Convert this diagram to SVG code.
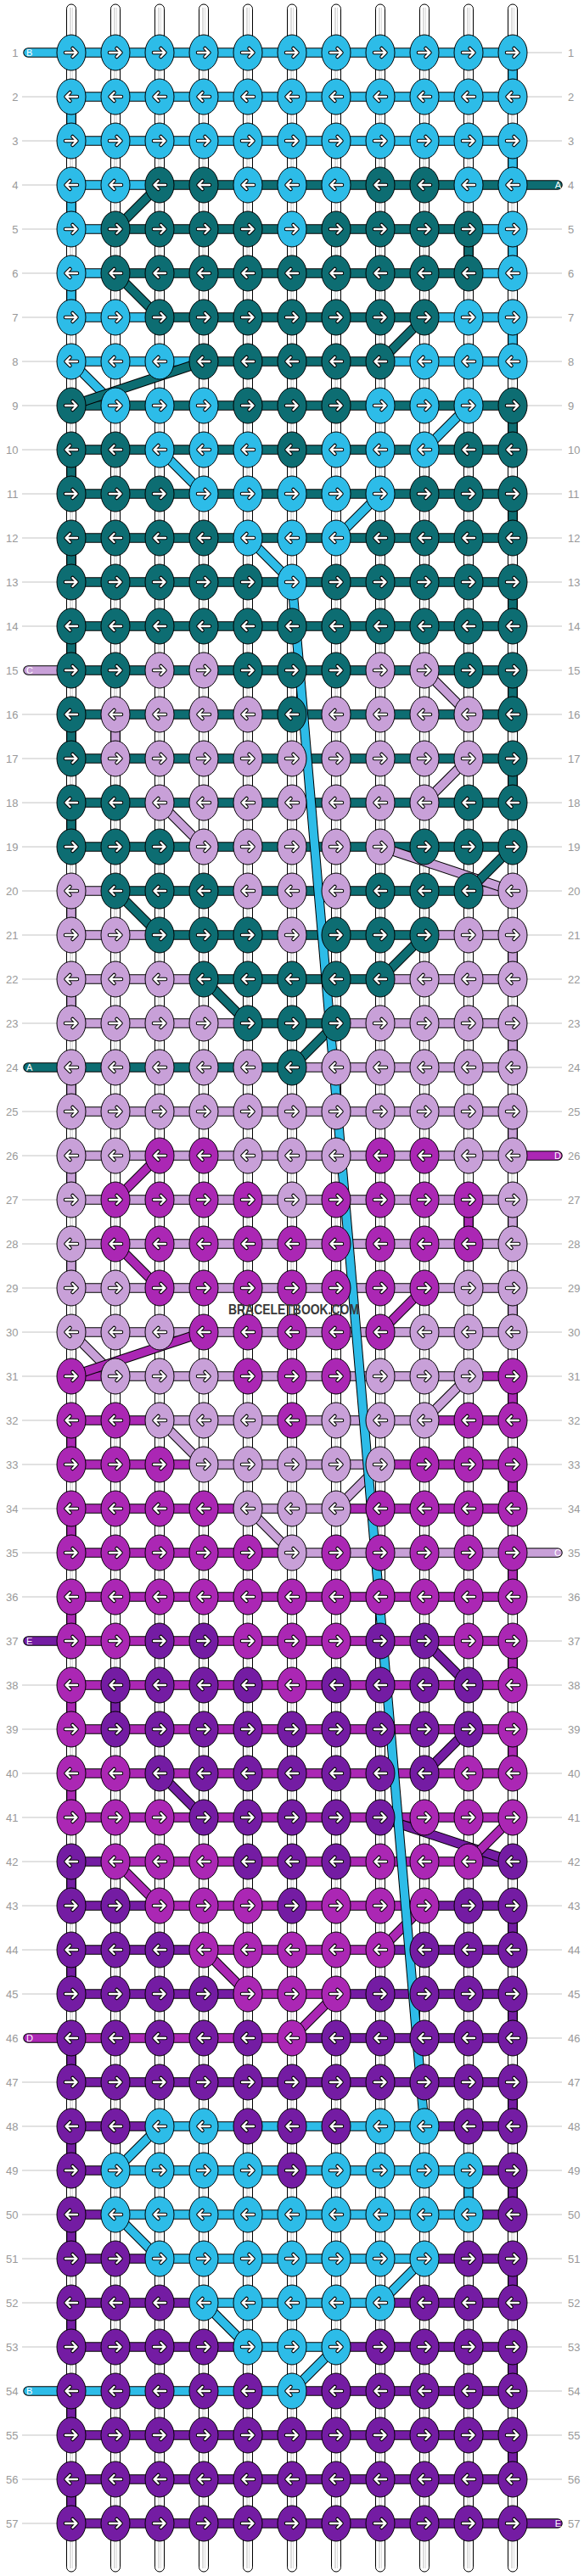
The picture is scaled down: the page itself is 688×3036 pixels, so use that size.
<svg xmlns="http://www.w3.org/2000/svg" width="688" height="3036" viewBox="0 0 688 3036">
<defs>
<style>
.b{fill:#2DBCE8}.t{fill:#0D6D72}.l{fill:#C8A0D8}.m{fill:#AB27B4}.p{fill:#741CA3}
.o{stroke:#000;stroke-width:11.5}
.sb,.st,.sl,.sm,.sp{stroke-width:9.5}
.sb{stroke:#2DBCE8}.st{stroke:#0D6D72}.sl{stroke:#C8A0D8}.sm{stroke:#AB27B4}.sp{stroke:#741CA3}
.num{font-family:"Liberation Sans",Arial,sans-serif;font-size:13px;fill:#999}
.lbl{font-family:"Liberation Sans",Arial,sans-serif;font-size:11px;fill:#fff}
</style>
<g id="R"><ellipse rx="17" ry="21" stroke="#000" stroke-width="1"/><path d="M-7 0H6M1.5-5L6.5 0L1.5 5" fill="none" stroke="#000" stroke-width="4.5" stroke-linecap="round" stroke-linejoin="round"/><path d="M-7 0H6M1.5-5L6.5 0L1.5 5" fill="none" stroke="#fff" stroke-width="2.4" stroke-linecap="round" stroke-linejoin="round"/></g>
<g id="L"><ellipse rx="17" ry="21" stroke="#000" stroke-width="1"/><path d="M7 0H-6M-1.5-5L-6.5 0L-1.5 5" fill="none" stroke="#000" stroke-width="4.5" stroke-linecap="round" stroke-linejoin="round"/><path d="M7 0H-6M-1.5-5L-6.5 0L-1.5 5" fill="none" stroke="#fff" stroke-width="2.4" stroke-linecap="round" stroke-linejoin="round"/></g>
<g id="ws"><rect x="-5.5" y="5" width="11" height="3026" rx="5.5" fill="#fff" stroke="#000"/><path d="M-1 9V3027" stroke="#bbb"/><path d="M1.5 9V3027" stroke="#ddd"/></g>
</defs>
<rect width="688" height="3036" fill="#fff"/>
<g id="labels">
<path fill="none" stroke="#c4c4c4" d="M26 114h41M26 166h41M26 218h41M26 270h41M26 322h41M26 374h41M26 426h41M26 478h41M26 530h41M26 582h41M26 634h41M26 686h41M26 738h41M26 842h41M26 894h41M26 946h41M26 998h41M26 1050h41M26 1102h41M26 1154h41M26 1206h41M26 1310h41M26 1362h41M26 1414h41M26 1466h41M26 1518h41M26 1570h41M26 1622h41M26 1674h41M26 1726h41M26 1778h41M26 1830h41M26 1882h41M26 1986h41M26 2038h41M26 2090h41M26 2142h41M26 2194h41M26 2246h41M26 2298h41M26 2350h41M26 2454h41M26 2506h41M26 2558h41M26 2610h41M26 2662h41M26 2714h41M26 2766h41M26 2870h41M26 2922h41M26 2974h41M621 62h41M621 114h41M621 166h41M621 270h41M621 322h41M621 374h41M621 426h41M621 478h41M621 530h41M621 582h41M621 634h41M621 686h41M621 738h41M621 790h41M621 842h41M621 894h41M621 946h41M621 998h41M621 1050h41M621 1102h41M621 1154h41M621 1206h41M621 1258h41M621 1310h41M621 1414h41M621 1466h41M621 1518h41M621 1570h41M621 1622h41M621 1674h41M621 1726h41M621 1778h41M621 1882h41M621 1934h41M621 1986h41M621 2038h41M621 2090h41M621 2142h41M621 2194h41M621 2246h41M621 2298h41M621 2350h41M621 2402h41M621 2454h41M621 2506h41M621 2558h41M621 2610h41M621 2662h41M621 2714h41M621 2766h41M621 2818h41M621 2870h41M621 2922h41"/>
<text class="num" text-anchor="end"><tspan x="21.5" y="66.5">1</tspan><tspan x="21.5" y="118.5">2</tspan><tspan x="21.5" y="170.5">3</tspan><tspan x="21.5" y="222.5">4</tspan><tspan x="21.5" y="274.5">5</tspan><tspan x="21.5" y="326.5">6</tspan><tspan x="21.5" y="378.5">7</tspan><tspan x="21.5" y="430.5">8</tspan><tspan x="21.5" y="482.5">9</tspan><tspan x="21.5" y="534.5">10</tspan><tspan x="21.5" y="586.5">11</tspan><tspan x="21.5" y="638.5">12</tspan><tspan x="21.5" y="690.5">13</tspan><tspan x="21.5" y="742.5">14</tspan><tspan x="21.5" y="794.5">15</tspan><tspan x="21.5" y="846.5">16</tspan><tspan x="21.5" y="898.5">17</tspan><tspan x="21.5" y="950.5">18</tspan><tspan x="21.5" y="1002.5">19</tspan><tspan x="21.5" y="1054.5">20</tspan><tspan x="21.5" y="1106.5">21</tspan><tspan x="21.5" y="1158.5">22</tspan><tspan x="21.5" y="1210.5">23</tspan><tspan x="21.5" y="1262.5">24</tspan><tspan x="21.5" y="1314.5">25</tspan><tspan x="21.5" y="1366.5">26</tspan><tspan x="21.5" y="1418.5">27</tspan><tspan x="21.5" y="1470.5">28</tspan><tspan x="21.5" y="1522.5">29</tspan><tspan x="21.5" y="1574.5">30</tspan><tspan x="21.5" y="1626.5">31</tspan><tspan x="21.5" y="1678.5">32</tspan><tspan x="21.5" y="1730.5">33</tspan><tspan x="21.5" y="1782.5">34</tspan><tspan x="21.5" y="1834.5">35</tspan><tspan x="21.5" y="1886.5">36</tspan><tspan x="21.5" y="1938.5">37</tspan><tspan x="21.5" y="1990.5">38</tspan><tspan x="21.5" y="2042.5">39</tspan><tspan x="21.5" y="2094.5">40</tspan><tspan x="21.5" y="2146.5">41</tspan><tspan x="21.5" y="2198.5">42</tspan><tspan x="21.5" y="2250.5">43</tspan><tspan x="21.5" y="2302.5">44</tspan><tspan x="21.5" y="2354.5">45</tspan><tspan x="21.5" y="2406.5">46</tspan><tspan x="21.5" y="2458.5">47</tspan><tspan x="21.5" y="2510.5">48</tspan><tspan x="21.5" y="2562.5">49</tspan><tspan x="21.5" y="2614.5">50</tspan><tspan x="21.5" y="2666.5">51</tspan><tspan x="21.5" y="2718.5">52</tspan><tspan x="21.5" y="2770.5">53</tspan><tspan x="21.5" y="2822.5">54</tspan><tspan x="21.5" y="2874.5">55</tspan><tspan x="21.5" y="2926.5">56</tspan><tspan x="21.5" y="2978.5">57</tspan></text>
<text class="num"><tspan x="669" y="66.5">1</tspan><tspan x="669" y="118.5">2</tspan><tspan x="669" y="170.5">3</tspan><tspan x="669" y="222.5">4</tspan><tspan x="669" y="274.5">5</tspan><tspan x="669" y="326.5">6</tspan><tspan x="669" y="378.5">7</tspan><tspan x="669" y="430.5">8</tspan><tspan x="669" y="482.5">9</tspan><tspan x="669" y="534.5">10</tspan><tspan x="669" y="586.5">11</tspan><tspan x="669" y="638.5">12</tspan><tspan x="669" y="690.5">13</tspan><tspan x="669" y="742.5">14</tspan><tspan x="669" y="794.5">15</tspan><tspan x="669" y="846.5">16</tspan><tspan x="669" y="898.5">17</tspan><tspan x="669" y="950.5">18</tspan><tspan x="669" y="1002.5">19</tspan><tspan x="669" y="1054.5">20</tspan><tspan x="669" y="1106.5">21</tspan><tspan x="669" y="1158.5">22</tspan><tspan x="669" y="1210.5">23</tspan><tspan x="669" y="1262.5">24</tspan><tspan x="669" y="1314.5">25</tspan><tspan x="669" y="1366.5">26</tspan><tspan x="669" y="1418.5">27</tspan><tspan x="669" y="1470.5">28</tspan><tspan x="669" y="1522.5">29</tspan><tspan x="669" y="1574.5">30</tspan><tspan x="669" y="1626.5">31</tspan><tspan x="669" y="1678.5">32</tspan><tspan x="669" y="1730.5">33</tspan><tspan x="669" y="1782.5">34</tspan><tspan x="669" y="1834.5">35</tspan><tspan x="669" y="1886.5">36</tspan><tspan x="669" y="1938.5">37</tspan><tspan x="669" y="1990.5">38</tspan><tspan x="669" y="2042.5">39</tspan><tspan x="669" y="2094.5">40</tspan><tspan x="669" y="2146.5">41</tspan><tspan x="669" y="2198.5">42</tspan><tspan x="669" y="2250.5">43</tspan><tspan x="669" y="2302.5">44</tspan><tspan x="669" y="2354.5">45</tspan><tspan x="669" y="2406.5">46</tspan><tspan x="669" y="2458.5">47</tspan><tspan x="669" y="2510.5">48</tspan><tspan x="669" y="2562.5">49</tspan><tspan x="669" y="2614.5">50</tspan><tspan x="669" y="2666.5">51</tspan><tspan x="669" y="2718.5">52</tspan><tspan x="669" y="2770.5">53</tspan><tspan x="669" y="2822.5">54</tspan><tspan x="669" y="2874.5">55</tspan><tspan x="669" y="2926.5">56</tspan><tspan x="669" y="2978.5">57</tspan></text>
</g>
<g id="connectors" fill="none">
<g id="strings"><use href="#ws" x="84"/><use href="#ws" x="136"/><use href="#ws" x="188"/><use href="#ws" x="240"/><use href="#ws" x="292"/><use href="#ws" x="344"/><use href="#ws" x="396"/><use href="#ws" x="448"/><use href="#ws" x="500"/><use href="#ws" x="552"/><use href="#ws" x="604"/></g>
<g id="rows" stroke-linecap="round">
<path class="o" d="M33 62H604M84 114H604M84 166H604M84 218H657M84 270H604M84 322H604M84 374H604M84 426H604M84 478H604M84 530H604M84 582H604M84 634H604M84 686H604M84 738H604M33 790H604M84 842H604M84 894H604M84 946H604M84 998H604M84 1050H604M84 1102H604M84 1154H604M84 1206H604M33 1258H604M84 1310H604M84 1362H657M84 1414H604M84 1466H604M84 1518H604M84 1570H604M84 1622H604M84 1674H604M84 1726H604M84 1778H604M84 1830H657M84 1882H604M33 1934H604M84 1986H604M84 2038H604M84 2090H604M84 2142H604M84 2194H604M84 2246H604M84 2298H604M84 2350H604M33 2402H604M84 2454H604M84 2506H604M84 2558H604M84 2610H604M84 2662H604M84 2714H604M84 2766H604M33 2818H604M84 2870H604M84 2922H604M84 2974H657"/>
<path class="sb" d="M33 62H604M84 114H604M84 166H604M84 218H188M84 270H136M552 270H604M84 322H136M552 322H604M84 374H188M500 374H604M84 426H240M448 426H604M188 2506H500M136 2558H552M136 2610H552M188 2662H500M240 2714H448M292 2766H396M33 2818H344"/>
<path class="st" d="M188 218H657M136 270H552M136 322H552M188 374H500M240 426H448M84 478H604M84 530H604M84 582H604M84 634H604M84 686H604M84 738H604M84 790H604M84 842H604M84 894H604M84 946H604M84 998H604M136 1050H552M188 1102H500M240 1154H448M292 1206H396M33 1258H344"/>
<path class="sl" d="M33 790H84M84 1050H136M552 1050H604M84 1102H188M500 1102H604M84 1154H240M448 1154H604M84 1206H292M396 1206H604M344 1258H604M84 1310H604M84 1362H604M84 1414H604M84 1466H604M84 1518H604M84 1570H604M136 1622H552M188 1674H500M240 1726H448M292 1778H396M344 1830H657"/>
<path class="sm" d="M604 1362H657M84 1622H136M552 1622H604M84 1674H188M500 1674H604M84 1726H240M448 1726H604M84 1778H292M396 1778H604M84 1830H344M84 1882H604M84 1934H604M84 1986H604M84 2038H604M84 2090H604M84 2142H604M136 2194H552M188 2246H500M240 2298H448M292 2350H396M33 2402H344"/>
<path class="sp" d="M33 1934H84M84 2194H136M552 2194H604M84 2246H188M500 2246H604M84 2298H240M448 2298H604M84 2350H292M396 2350H604M344 2402H604M84 2454H604M84 2506H188M500 2506H604M84 2558H136M552 2558H604M84 2610H136M552 2610H604M84 2662H188M500 2662H604M84 2714H240M448 2714H604M84 2766H292M396 2766H604M344 2818H604M84 2870H604M84 2922H604M84 2974H657"/>
</g>
<g id="turns" stroke-linecap="round">
<path class="o" d="M604 62V114M84 114V166M604 166V218M84 218V270M604 270V322M552 270V322M84 322V374M604 374V426M604 478V530M84 530V582M604 582V634M84 634V686M604 686V738M84 738V790M604 790V842M84 842V894M136 842V894M604 894V946M84 946V998M84 1050V1102M604 1102V1154M84 1154V1206M604 1206V1258M84 1258V1310M604 1310V1362M84 1362V1414M604 1414V1466M552 1414V1466M84 1466V1518M604 1518V1570M604 1622V1674M84 1674V1726M604 1726V1778M84 1778V1830M604 1830V1882M84 1882V1934M604 1934V1986M84 1986V2038M136 1986V2038M604 2038V2090M84 2090V2142M84 2194V2246M604 2246V2298M84 2298V2350M604 2350V2402M84 2402V2454M604 2454V2506M84 2506V2558M604 2558V2610M552 2558V2610M84 2610V2662M604 2662V2714M84 2714V2766M604 2766V2818M84 2818V2870M604 2870V2922M84 2922V2974"/>
<path class="sb" d="M604 62V114M84 114V166M604 166V218M84 218V270M604 270V322M84 322V374M604 374V426M552 2558V2610"/>
<path class="st" d="M552 270V322M604 478V530M84 530V582M604 582V634M84 634V686M604 686V738M84 738V790M604 790V842M84 842V894M604 894V946M84 946V998"/>
<path class="sl" d="M136 842V894M84 1050V1102M604 1102V1154M84 1154V1206M604 1206V1258M84 1258V1310M604 1310V1362M84 1362V1414M604 1414V1466M84 1466V1518M604 1518V1570"/>
<path class="sm" d="M552 1414V1466M604 1622V1674M84 1674V1726M604 1726V1778M84 1778V1830M604 1830V1882M84 1882V1934M604 1934V1986M84 1986V2038M604 2038V2090M84 2090V2142"/>
<path class="sp" d="M136 1986V2038M84 2194V2246M604 2246V2298M84 2298V2350M604 2350V2402M84 2402V2454M604 2454V2506M84 2506V2558M604 2558V2610M84 2610V2662M604 2662V2714M84 2714V2766M604 2766V2818M84 2818V2870M604 2870V2922M84 2922V2974"/>
</g>
<g id="diagonals">
<path class="o" d="M188 218L136 270"/><path class="st" d="M188 218L136 270"/>
<path class="o" d="M136 322L188 374"/><path class="st" d="M136 322L188 374"/>
<path class="o" d="M500 374L448 426"/><path class="st" d="M500 374L448 426"/>
<path class="o" d="M84 426L136 478"/><path class="sb" d="M84 426L136 478"/>
<path class="o" d="M240 426L84 478"/><path class="st" d="M240 426L84 478"/>
<path class="o" d="M552 478L500 530"/><path class="sb" d="M552 478L500 530"/>
<path class="o" d="M188 530L240 582"/><path class="sb" d="M188 530L240 582"/>
<path class="o" d="M448 582L396 634"/><path class="sb" d="M448 582L396 634"/>
<path class="o" d="M292 634L344 686"/><path class="sb" d="M292 634L344 686"/>
<path class="o" d="M500 790L552 842"/><path class="sl" d="M500 790L552 842"/>
<path class="o" d="M552 894L500 946"/><path class="sl" d="M552 894L500 946"/>
<path class="o" d="M188 946L240 998"/><path class="sl" d="M188 946L240 998"/>
<path class="o" d="M448 998L604 1050"/><path class="sl" d="M448 998L604 1050"/>
<path class="o" d="M604 998L552 1050"/><path class="st" d="M604 998L552 1050"/>
<path class="o" d="M136 1050L188 1102"/><path class="st" d="M136 1050L188 1102"/>
<path class="o" d="M500 1102L448 1154"/><path class="st" d="M500 1102L448 1154"/>
<path class="o" d="M240 1154L292 1206"/><path class="st" d="M240 1154L292 1206"/>
<path class="o" d="M396 1206L344 1258"/><path class="st" d="M396 1206L344 1258"/>
<path class="o" d="M188 1362L136 1414"/><path class="sm" d="M188 1362L136 1414"/>
<path class="o" d="M136 1466L188 1518"/><path class="sm" d="M136 1466L188 1518"/>
<path class="o" d="M500 1518L448 1570"/><path class="sm" d="M500 1518L448 1570"/>
<path class="o" d="M84 1570L136 1622"/><path class="sl" d="M84 1570L136 1622"/>
<path class="o" d="M240 1570L84 1622"/><path class="sm" d="M240 1570L84 1622"/>
<path class="o" d="M552 1622L500 1674"/><path class="sl" d="M552 1622L500 1674"/>
<path class="o" d="M188 1674L240 1726"/><path class="sl" d="M188 1674L240 1726"/>
<path class="o" d="M448 1726L396 1778"/><path class="sl" d="M448 1726L396 1778"/>
<path class="o" d="M292 1778L344 1830"/><path class="sl" d="M292 1778L344 1830"/>
<path class="o" d="M500 1934L552 1986"/><path class="sp" d="M500 1934L552 1986"/>
<path class="o" d="M552 2038L500 2090"/><path class="sp" d="M552 2038L500 2090"/>
<path class="o" d="M188 2090L240 2142"/><path class="sp" d="M188 2090L240 2142"/>
<path class="o" d="M448 2142L604 2194"/><path class="sp" d="M448 2142L604 2194"/>
<path class="o" d="M604 2142L552 2194"/><path class="sm" d="M604 2142L552 2194"/>
<path class="o" d="M136 2194L188 2246"/><path class="sm" d="M136 2194L188 2246"/>
<path class="o" d="M500 2246L448 2298"/><path class="sm" d="M500 2246L448 2298"/>
<path class="o" d="M240 2298L292 2350"/><path class="sm" d="M240 2298L292 2350"/>
<path class="o" d="M396 2350L344 2402"/><path class="sm" d="M396 2350L344 2402"/>
<path class="o" d="M188 2506L136 2558"/><path class="sb" d="M188 2506L136 2558"/>
<path class="o" d="M136 2610L188 2662"/><path class="sb" d="M136 2610L188 2662"/>
<path class="o" d="M500 2662L448 2714"/><path class="sb" d="M500 2662L448 2714"/>
<path class="o" d="M240 2714L292 2766"/><path class="sb" d="M240 2714L292 2766"/>
<path class="o" d="M396 2766L344 2818"/><path class="sb" d="M396 2766L344 2818"/>
<path class="o" d="M344 686L500 2506"/><path class="sb" d="M344 686L500 2506"/>
</g>
</g>
<g id="knots">
<g id="row1" transform="translate(0,62)"><g id="k1-1" class="b"><use href="#R" x="84"/></g><g id="k1-2" class="b"><use href="#R" x="136"/></g><g id="k1-3" class="b"><use href="#R" x="188"/></g><g id="k1-4" class="b"><use href="#R" x="240"/></g><g id="k1-5" class="b"><use href="#R" x="292"/></g><g id="k1-6" class="b"><use href="#R" x="344"/></g><g id="k1-7" class="b"><use href="#R" x="396"/></g><g id="k1-8" class="b"><use href="#R" x="448"/></g><g id="k1-9" class="b"><use href="#R" x="500"/></g><g id="k1-10" class="b"><use href="#R" x="552"/></g><g id="k1-11" class="b"><use href="#R" x="604"/></g></g>
<g id="row2" transform="translate(0,114)"><g id="k2-1" class="b"><use href="#L" x="84"/></g><g id="k2-2" class="b"><use href="#L" x="136"/></g><g id="k2-3" class="b"><use href="#L" x="188"/></g><g id="k2-4" class="b"><use href="#L" x="240"/></g><g id="k2-5" class="b"><use href="#L" x="292"/></g><g id="k2-6" class="b"><use href="#L" x="344"/></g><g id="k2-7" class="b"><use href="#L" x="396"/></g><g id="k2-8" class="b"><use href="#L" x="448"/></g><g id="k2-9" class="b"><use href="#L" x="500"/></g><g id="k2-10" class="b"><use href="#L" x="552"/></g><g id="k2-11" class="b"><use href="#L" x="604"/></g></g>
<g id="row3" transform="translate(0,166)"><g id="k3-1" class="b"><use href="#R" x="84"/></g><g id="k3-2" class="b"><use href="#R" x="136"/></g><g id="k3-3" class="b"><use href="#R" x="188"/></g><g id="k3-4" class="b"><use href="#R" x="240"/></g><g id="k3-5" class="b"><use href="#R" x="292"/></g><g id="k3-6" class="b"><use href="#R" x="344"/></g><g id="k3-7" class="b"><use href="#R" x="396"/></g><g id="k3-8" class="b"><use href="#R" x="448"/></g><g id="k3-9" class="b"><use href="#R" x="500"/></g><g id="k3-10" class="b"><use href="#R" x="552"/></g><g id="k3-11" class="b"><use href="#R" x="604"/></g></g>
<g id="row4" transform="translate(0,218)"><g id="k4-1" class="b"><use href="#L" x="84"/></g><g id="k4-2" class="b"><use href="#L" x="136"/></g><g id="k4-3" class="t"><use href="#L" x="188"/></g><g id="k4-4" class="t"><use href="#L" x="240"/></g><g id="k4-5" class="b"><use href="#L" x="292"/></g><g id="k4-6" class="b"><use href="#L" x="344"/></g><g id="k4-7" class="b"><use href="#L" x="396"/></g><g id="k4-8" class="t"><use href="#L" x="448"/></g><g id="k4-9" class="t"><use href="#L" x="500"/></g><g id="k4-10" class="b"><use href="#L" x="552"/></g><g id="k4-11" class="b"><use href="#L" x="604"/></g></g>
<g id="row5" transform="translate(0,270)"><g id="k5-1" class="b"><use href="#R" x="84"/></g><g id="k5-2" class="t"><use href="#R" x="136"/></g><g id="k5-3" class="t"><use href="#R" x="188"/></g><g id="k5-4" class="t"><use href="#R" x="240"/></g><g id="k5-5" class="t"><use href="#R" x="292"/></g><g id="k5-6" class="b"><use href="#R" x="344"/></g><g id="k5-7" class="t"><use href="#R" x="396"/></g><g id="k5-8" class="t"><use href="#R" x="448"/></g><g id="k5-9" class="t"><use href="#R" x="500"/></g><g id="k5-10" class="t"><use href="#R" x="552"/></g><g id="k5-11" class="b"><use href="#R" x="604"/></g></g>
<g id="row6" transform="translate(0,322)"><g id="k6-1" class="b"><use href="#L" x="84"/></g><g id="k6-2" class="t"><use href="#L" x="136"/></g><g id="k6-3" class="t"><use href="#L" x="188"/></g><g id="k6-4" class="t"><use href="#L" x="240"/></g><g id="k6-5" class="t"><use href="#L" x="292"/></g><g id="k6-6" class="t"><use href="#L" x="344"/></g><g id="k6-7" class="t"><use href="#L" x="396"/></g><g id="k6-8" class="t"><use href="#L" x="448"/></g><g id="k6-9" class="t"><use href="#L" x="500"/></g><g id="k6-10" class="t"><use href="#L" x="552"/></g><g id="k6-11" class="b"><use href="#L" x="604"/></g></g>
<g id="row7" transform="translate(0,374)"><g id="k7-1" class="b"><use href="#R" x="84"/></g><g id="k7-2" class="b"><use href="#R" x="136"/></g><g id="k7-3" class="t"><use href="#R" x="188"/></g><g id="k7-4" class="t"><use href="#R" x="240"/></g><g id="k7-5" class="t"><use href="#R" x="292"/></g><g id="k7-6" class="t"><use href="#R" x="344"/></g><g id="k7-7" class="t"><use href="#R" x="396"/></g><g id="k7-8" class="t"><use href="#R" x="448"/></g><g id="k7-9" class="t"><use href="#R" x="500"/></g><g id="k7-10" class="b"><use href="#R" x="552"/></g><g id="k7-11" class="b"><use href="#R" x="604"/></g></g>
<g id="row8" transform="translate(0,426)"><g id="k8-1" class="b"><use href="#L" x="84"/></g><g id="k8-2" class="b"><use href="#L" x="136"/></g><g id="k8-3" class="b"><use href="#L" x="188"/></g><g id="k8-4" class="t"><use href="#L" x="240"/></g><g id="k8-5" class="t"><use href="#L" x="292"/></g><g id="k8-6" class="t"><use href="#L" x="344"/></g><g id="k8-7" class="t"><use href="#L" x="396"/></g><g id="k8-8" class="t"><use href="#L" x="448"/></g><g id="k8-9" class="b"><use href="#L" x="500"/></g><g id="k8-10" class="b"><use href="#L" x="552"/></g><g id="k8-11" class="b"><use href="#L" x="604"/></g></g>
<g id="row9" transform="translate(0,478)"><g id="k9-1" class="t"><use href="#R" x="84"/></g><g id="k9-2" class="b"><use href="#R" x="136"/></g><g id="k9-3" class="b"><use href="#R" x="188"/></g><g id="k9-4" class="b"><use href="#R" x="240"/></g><g id="k9-5" class="t"><use href="#R" x="292"/></g><g id="k9-6" class="t"><use href="#R" x="344"/></g><g id="k9-7" class="t"><use href="#R" x="396"/></g><g id="k9-8" class="b"><use href="#R" x="448"/></g><g id="k9-9" class="b"><use href="#R" x="500"/></g><g id="k9-10" class="b"><use href="#R" x="552"/></g><g id="k9-11" class="t"><use href="#R" x="604"/></g></g>
<g id="row10" transform="translate(0,530)"><g id="k10-1" class="t"><use href="#L" x="84"/></g><g id="k10-2" class="t"><use href="#L" x="136"/></g><g id="k10-3" class="b"><use href="#L" x="188"/></g><g id="k10-4" class="b"><use href="#L" x="240"/></g><g id="k10-5" class="b"><use href="#L" x="292"/></g><g id="k10-6" class="t"><use href="#L" x="344"/></g><g id="k10-7" class="b"><use href="#L" x="396"/></g><g id="k10-8" class="b"><use href="#L" x="448"/></g><g id="k10-9" class="b"><use href="#L" x="500"/></g><g id="k10-10" class="t"><use href="#L" x="552"/></g><g id="k10-11" class="t"><use href="#L" x="604"/></g></g>
<g id="row11" transform="translate(0,582)"><g id="k11-1" class="t"><use href="#R" x="84"/></g><g id="k11-2" class="t"><use href="#R" x="136"/></g><g id="k11-3" class="t"><use href="#R" x="188"/></g><g id="k11-4" class="b"><use href="#R" x="240"/></g><g id="k11-5" class="b"><use href="#R" x="292"/></g><g id="k11-6" class="b"><use href="#R" x="344"/></g><g id="k11-7" class="b"><use href="#R" x="396"/></g><g id="k11-8" class="b"><use href="#R" x="448"/></g><g id="k11-9" class="t"><use href="#R" x="500"/></g><g id="k11-10" class="t"><use href="#R" x="552"/></g><g id="k11-11" class="t"><use href="#R" x="604"/></g></g>
<g id="row12" transform="translate(0,634)"><g id="k12-1" class="t"><use href="#L" x="84"/></g><g id="k12-2" class="t"><use href="#L" x="136"/></g><g id="k12-3" class="t"><use href="#L" x="188"/></g><g id="k12-4" class="t"><use href="#L" x="240"/></g><g id="k12-5" class="b"><use href="#L" x="292"/></g><g id="k12-6" class="b"><use href="#L" x="344"/></g><g id="k12-7" class="b"><use href="#L" x="396"/></g><g id="k12-8" class="t"><use href="#L" x="448"/></g><g id="k12-9" class="t"><use href="#L" x="500"/></g><g id="k12-10" class="t"><use href="#L" x="552"/></g><g id="k12-11" class="t"><use href="#L" x="604"/></g></g>
<g id="row13" transform="translate(0,686)"><g id="k13-1" class="t"><use href="#R" x="84"/></g><g id="k13-2" class="t"><use href="#R" x="136"/></g><g id="k13-3" class="t"><use href="#R" x="188"/></g><g id="k13-4" class="t"><use href="#R" x="240"/></g><g id="k13-5" class="t"><use href="#R" x="292"/></g><g id="k13-6" class="b"><use href="#R" x="344"/></g><g id="k13-7" class="t"><use href="#R" x="396"/></g><g id="k13-8" class="t"><use href="#R" x="448"/></g><g id="k13-9" class="t"><use href="#R" x="500"/></g><g id="k13-10" class="t"><use href="#R" x="552"/></g><g id="k13-11" class="t"><use href="#R" x="604"/></g></g>
<g id="row14" transform="translate(0,738)"><g id="k14-1" class="t"><use href="#L" x="84"/></g><g id="k14-2" class="t"><use href="#L" x="136"/></g><g id="k14-3" class="t"><use href="#L" x="188"/></g><g id="k14-4" class="t"><use href="#L" x="240"/></g><g id="k14-5" class="t"><use href="#L" x="292"/></g><g id="k14-6" class="t"><use href="#L" x="344"/></g><g id="k14-7" class="t"><use href="#L" x="396"/></g><g id="k14-8" class="t"><use href="#L" x="448"/></g><g id="k14-9" class="t"><use href="#L" x="500"/></g><g id="k14-10" class="t"><use href="#L" x="552"/></g><g id="k14-11" class="t"><use href="#L" x="604"/></g></g>
<g id="row15" transform="translate(0,790)"><g id="k15-1" class="t"><use href="#R" x="84"/></g><g id="k15-2" class="t"><use href="#R" x="136"/></g><g id="k15-3" class="l"><use href="#R" x="188"/></g><g id="k15-4" class="l"><use href="#R" x="240"/></g><g id="k15-5" class="t"><use href="#R" x="292"/></g><g id="k15-6" class="t"><use href="#R" x="344"/></g><g id="k15-7" class="t"><use href="#R" x="396"/></g><g id="k15-8" class="l"><use href="#R" x="448"/></g><g id="k15-9" class="l"><use href="#R" x="500"/></g><g id="k15-10" class="t"><use href="#R" x="552"/></g><g id="k15-11" class="t"><use href="#R" x="604"/></g></g>
<g id="row16" transform="translate(0,842)"><g id="k16-1" class="t"><use href="#L" x="84"/></g><g id="k16-2" class="l"><use href="#L" x="136"/></g><g id="k16-3" class="l"><use href="#L" x="188"/></g><g id="k16-4" class="l"><use href="#L" x="240"/></g><g id="k16-5" class="l"><use href="#L" x="292"/></g><g id="k16-6" class="t"><use href="#L" x="344"/></g><g id="k16-7" class="l"><use href="#L" x="396"/></g><g id="k16-8" class="l"><use href="#L" x="448"/></g><g id="k16-9" class="l"><use href="#L" x="500"/></g><g id="k16-10" class="l"><use href="#L" x="552"/></g><g id="k16-11" class="t"><use href="#L" x="604"/></g></g>
<g id="row17" transform="translate(0,894)"><g id="k17-1" class="t"><use href="#R" x="84"/></g><g id="k17-2" class="l"><use href="#R" x="136"/></g><g id="k17-3" class="l"><use href="#R" x="188"/></g><g id="k17-4" class="l"><use href="#R" x="240"/></g><g id="k17-5" class="l"><use href="#R" x="292"/></g><g id="k17-6" class="l"><use href="#R" x="344"/></g><g id="k17-7" class="l"><use href="#R" x="396"/></g><g id="k17-8" class="l"><use href="#R" x="448"/></g><g id="k17-9" class="l"><use href="#R" x="500"/></g><g id="k17-10" class="l"><use href="#R" x="552"/></g><g id="k17-11" class="t"><use href="#R" x="604"/></g></g>
<g id="row18" transform="translate(0,946)"><g id="k18-1" class="t"><use href="#L" x="84"/></g><g id="k18-2" class="t"><use href="#L" x="136"/></g><g id="k18-3" class="l"><use href="#L" x="188"/></g><g id="k18-4" class="l"><use href="#L" x="240"/></g><g id="k18-5" class="l"><use href="#L" x="292"/></g><g id="k18-6" class="l"><use href="#L" x="344"/></g><g id="k18-7" class="l"><use href="#L" x="396"/></g><g id="k18-8" class="l"><use href="#L" x="448"/></g><g id="k18-9" class="l"><use href="#L" x="500"/></g><g id="k18-10" class="t"><use href="#L" x="552"/></g><g id="k18-11" class="t"><use href="#L" x="604"/></g></g>
<g id="row19" transform="translate(0,998)"><g id="k19-1" class="t"><use href="#R" x="84"/></g><g id="k19-2" class="t"><use href="#R" x="136"/></g><g id="k19-3" class="t"><use href="#R" x="188"/></g><g id="k19-4" class="l"><use href="#R" x="240"/></g><g id="k19-5" class="l"><use href="#R" x="292"/></g><g id="k19-6" class="l"><use href="#R" x="344"/></g><g id="k19-7" class="l"><use href="#R" x="396"/></g><g id="k19-8" class="l"><use href="#R" x="448"/></g><g id="k19-9" class="t"><use href="#R" x="500"/></g><g id="k19-10" class="t"><use href="#R" x="552"/></g><g id="k19-11" class="t"><use href="#R" x="604"/></g></g>
<g id="row20" transform="translate(0,1050)"><g id="k20-1" class="l"><use href="#L" x="84"/></g><g id="k20-2" class="t"><use href="#L" x="136"/></g><g id="k20-3" class="t"><use href="#L" x="188"/></g><g id="k20-4" class="t"><use href="#L" x="240"/></g><g id="k20-5" class="l"><use href="#L" x="292"/></g><g id="k20-6" class="l"><use href="#L" x="344"/></g><g id="k20-7" class="l"><use href="#L" x="396"/></g><g id="k20-8" class="t"><use href="#L" x="448"/></g><g id="k20-9" class="t"><use href="#L" x="500"/></g><g id="k20-10" class="t"><use href="#L" x="552"/></g><g id="k20-11" class="l"><use href="#L" x="604"/></g></g>
<g id="row21" transform="translate(0,1102)"><g id="k21-1" class="l"><use href="#R" x="84"/></g><g id="k21-2" class="l"><use href="#R" x="136"/></g><g id="k21-3" class="t"><use href="#R" x="188"/></g><g id="k21-4" class="t"><use href="#R" x="240"/></g><g id="k21-5" class="t"><use href="#R" x="292"/></g><g id="k21-6" class="l"><use href="#R" x="344"/></g><g id="k21-7" class="t"><use href="#R" x="396"/></g><g id="k21-8" class="t"><use href="#R" x="448"/></g><g id="k21-9" class="t"><use href="#R" x="500"/></g><g id="k21-10" class="l"><use href="#R" x="552"/></g><g id="k21-11" class="l"><use href="#R" x="604"/></g></g>
<g id="row22" transform="translate(0,1154)"><g id="k22-1" class="l"><use href="#L" x="84"/></g><g id="k22-2" class="l"><use href="#L" x="136"/></g><g id="k22-3" class="l"><use href="#L" x="188"/></g><g id="k22-4" class="t"><use href="#L" x="240"/></g><g id="k22-5" class="t"><use href="#L" x="292"/></g><g id="k22-6" class="t"><use href="#L" x="344"/></g><g id="k22-7" class="t"><use href="#L" x="396"/></g><g id="k22-8" class="t"><use href="#L" x="448"/></g><g id="k22-9" class="l"><use href="#L" x="500"/></g><g id="k22-10" class="l"><use href="#L" x="552"/></g><g id="k22-11" class="l"><use href="#L" x="604"/></g></g>
<g id="row23" transform="translate(0,1206)"><g id="k23-1" class="l"><use href="#R" x="84"/></g><g id="k23-2" class="l"><use href="#R" x="136"/></g><g id="k23-3" class="l"><use href="#R" x="188"/></g><g id="k23-4" class="l"><use href="#R" x="240"/></g><g id="k23-5" class="t"><use href="#R" x="292"/></g><g id="k23-6" class="t"><use href="#R" x="344"/></g><g id="k23-7" class="t"><use href="#R" x="396"/></g><g id="k23-8" class="l"><use href="#R" x="448"/></g><g id="k23-9" class="l"><use href="#R" x="500"/></g><g id="k23-10" class="l"><use href="#R" x="552"/></g><g id="k23-11" class="l"><use href="#R" x="604"/></g></g>
<g id="row24" transform="translate(0,1258)"><g id="k24-1" class="l"><use href="#L" x="84"/></g><g id="k24-2" class="l"><use href="#L" x="136"/></g><g id="k24-3" class="l"><use href="#L" x="188"/></g><g id="k24-4" class="l"><use href="#L" x="240"/></g><g id="k24-5" class="l"><use href="#L" x="292"/></g><g id="k24-6" class="t"><use href="#L" x="344"/></g><g id="k24-7" class="l"><use href="#L" x="396"/></g><g id="k24-8" class="l"><use href="#L" x="448"/></g><g id="k24-9" class="l"><use href="#L" x="500"/></g><g id="k24-10" class="l"><use href="#L" x="552"/></g><g id="k24-11" class="l"><use href="#L" x="604"/></g></g>
<g id="row25" transform="translate(0,1310)"><g id="k25-1" class="l"><use href="#R" x="84"/></g><g id="k25-2" class="l"><use href="#R" x="136"/></g><g id="k25-3" class="l"><use href="#R" x="188"/></g><g id="k25-4" class="l"><use href="#R" x="240"/></g><g id="k25-5" class="l"><use href="#R" x="292"/></g><g id="k25-6" class="l"><use href="#R" x="344"/></g><g id="k25-7" class="l"><use href="#R" x="396"/></g><g id="k25-8" class="l"><use href="#R" x="448"/></g><g id="k25-9" class="l"><use href="#R" x="500"/></g><g id="k25-10" class="l"><use href="#R" x="552"/></g><g id="k25-11" class="l"><use href="#R" x="604"/></g></g>
<g id="row26" transform="translate(0,1362)"><g id="k26-1" class="l"><use href="#L" x="84"/></g><g id="k26-2" class="l"><use href="#L" x="136"/></g><g id="k26-3" class="m"><use href="#L" x="188"/></g><g id="k26-4" class="m"><use href="#L" x="240"/></g><g id="k26-5" class="l"><use href="#L" x="292"/></g><g id="k26-6" class="l"><use href="#L" x="344"/></g><g id="k26-7" class="l"><use href="#L" x="396"/></g><g id="k26-8" class="m"><use href="#L" x="448"/></g><g id="k26-9" class="m"><use href="#L" x="500"/></g><g id="k26-10" class="l"><use href="#L" x="552"/></g><g id="k26-11" class="l"><use href="#L" x="604"/></g></g>
<g id="row27" transform="translate(0,1414)"><g id="k27-1" class="l"><use href="#R" x="84"/></g><g id="k27-2" class="m"><use href="#R" x="136"/></g><g id="k27-3" class="m"><use href="#R" x="188"/></g><g id="k27-4" class="m"><use href="#R" x="240"/></g><g id="k27-5" class="m"><use href="#R" x="292"/></g><g id="k27-6" class="l"><use href="#R" x="344"/></g><g id="k27-7" class="m"><use href="#R" x="396"/></g><g id="k27-8" class="m"><use href="#R" x="448"/></g><g id="k27-9" class="m"><use href="#R" x="500"/></g><g id="k27-10" class="m"><use href="#R" x="552"/></g><g id="k27-11" class="l"><use href="#R" x="604"/></g></g>
<g id="row28" transform="translate(0,1466)"><g id="k28-1" class="l"><use href="#L" x="84"/></g><g id="k28-2" class="m"><use href="#L" x="136"/></g><g id="k28-3" class="m"><use href="#L" x="188"/></g><g id="k28-4" class="m"><use href="#L" x="240"/></g><g id="k28-5" class="m"><use href="#L" x="292"/></g><g id="k28-6" class="m"><use href="#L" x="344"/></g><g id="k28-7" class="m"><use href="#L" x="396"/></g><g id="k28-8" class="m"><use href="#L" x="448"/></g><g id="k28-9" class="m"><use href="#L" x="500"/></g><g id="k28-10" class="m"><use href="#L" x="552"/></g><g id="k28-11" class="l"><use href="#L" x="604"/></g></g>
<g id="row29" transform="translate(0,1518)"><g id="k29-1" class="l"><use href="#R" x="84"/></g><g id="k29-2" class="l"><use href="#R" x="136"/></g><g id="k29-3" class="m"><use href="#R" x="188"/></g><g id="k29-4" class="m"><use href="#R" x="240"/></g><g id="k29-5" class="m"><use href="#R" x="292"/></g><g id="k29-6" class="m"><use href="#R" x="344"/></g><g id="k29-7" class="m"><use href="#R" x="396"/></g><g id="k29-8" class="m"><use href="#R" x="448"/></g><g id="k29-9" class="m"><use href="#R" x="500"/></g><g id="k29-10" class="l"><use href="#R" x="552"/></g><g id="k29-11" class="l"><use href="#R" x="604"/></g></g>
<g id="row30" transform="translate(0,1570)"><g id="k30-1" class="l"><use href="#L" x="84"/></g><g id="k30-2" class="l"><use href="#L" x="136"/></g><g id="k30-3" class="l"><use href="#L" x="188"/></g><g id="k30-4" class="m"><use href="#L" x="240"/></g><g id="k30-5" class="m"><use href="#L" x="292"/></g><g id="k30-6" class="m"><use href="#L" x="344"/></g><g id="k30-7" class="m"><use href="#L" x="396"/></g><g id="k30-8" class="m"><use href="#L" x="448"/></g><g id="k30-9" class="l"><use href="#L" x="500"/></g><g id="k30-10" class="l"><use href="#L" x="552"/></g><g id="k30-11" class="l"><use href="#L" x="604"/></g></g>
<g id="row31" transform="translate(0,1622)"><g id="k31-1" class="m"><use href="#R" x="84"/></g><g id="k31-2" class="l"><use href="#R" x="136"/></g><g id="k31-3" class="l"><use href="#R" x="188"/></g><g id="k31-4" class="l"><use href="#R" x="240"/></g><g id="k31-5" class="m"><use href="#R" x="292"/></g><g id="k31-6" class="m"><use href="#R" x="344"/></g><g id="k31-7" class="m"><use href="#R" x="396"/></g><g id="k31-8" class="l"><use href="#R" x="448"/></g><g id="k31-9" class="l"><use href="#R" x="500"/></g><g id="k31-10" class="l"><use href="#R" x="552"/></g><g id="k31-11" class="m"><use href="#R" x="604"/></g></g>
<g id="row32" transform="translate(0,1674)"><g id="k32-1" class="m"><use href="#L" x="84"/></g><g id="k32-2" class="m"><use href="#L" x="136"/></g><g id="k32-3" class="l"><use href="#L" x="188"/></g><g id="k32-4" class="l"><use href="#L" x="240"/></g><g id="k32-5" class="l"><use href="#L" x="292"/></g><g id="k32-6" class="m"><use href="#L" x="344"/></g><g id="k32-7" class="l"><use href="#L" x="396"/></g><g id="k32-8" class="l"><use href="#L" x="448"/></g><g id="k32-9" class="l"><use href="#L" x="500"/></g><g id="k32-10" class="m"><use href="#L" x="552"/></g><g id="k32-11" class="m"><use href="#L" x="604"/></g></g>
<g id="row33" transform="translate(0,1726)"><g id="k33-1" class="m"><use href="#R" x="84"/></g><g id="k33-2" class="m"><use href="#R" x="136"/></g><g id="k33-3" class="m"><use href="#R" x="188"/></g><g id="k33-4" class="l"><use href="#R" x="240"/></g><g id="k33-5" class="l"><use href="#R" x="292"/></g><g id="k33-6" class="l"><use href="#R" x="344"/></g><g id="k33-7" class="l"><use href="#R" x="396"/></g><g id="k33-8" class="l"><use href="#R" x="448"/></g><g id="k33-9" class="m"><use href="#R" x="500"/></g><g id="k33-10" class="m"><use href="#R" x="552"/></g><g id="k33-11" class="m"><use href="#R" x="604"/></g></g>
<g id="row34" transform="translate(0,1778)"><g id="k34-1" class="m"><use href="#L" x="84"/></g><g id="k34-2" class="m"><use href="#L" x="136"/></g><g id="k34-3" class="m"><use href="#L" x="188"/></g><g id="k34-4" class="m"><use href="#L" x="240"/></g><g id="k34-5" class="l"><use href="#L" x="292"/></g><g id="k34-6" class="l"><use href="#L" x="344"/></g><g id="k34-7" class="l"><use href="#L" x="396"/></g><g id="k34-8" class="m"><use href="#L" x="448"/></g><g id="k34-9" class="m"><use href="#L" x="500"/></g><g id="k34-10" class="m"><use href="#L" x="552"/></g><g id="k34-11" class="m"><use href="#L" x="604"/></g></g>
<g id="row35" transform="translate(0,1830)"><g id="k35-1" class="m"><use href="#R" x="84"/></g><g id="k35-2" class="m"><use href="#R" x="136"/></g><g id="k35-3" class="m"><use href="#R" x="188"/></g><g id="k35-4" class="m"><use href="#R" x="240"/></g><g id="k35-5" class="m"><use href="#R" x="292"/></g><g id="k35-6" class="l"><use href="#R" x="344"/></g><g id="k35-7" class="m"><use href="#R" x="396"/></g><g id="k35-8" class="m"><use href="#R" x="448"/></g><g id="k35-9" class="m"><use href="#R" x="500"/></g><g id="k35-10" class="m"><use href="#R" x="552"/></g><g id="k35-11" class="m"><use href="#R" x="604"/></g></g>
<g id="row36" transform="translate(0,1882)"><g id="k36-1" class="m"><use href="#L" x="84"/></g><g id="k36-2" class="m"><use href="#L" x="136"/></g><g id="k36-3" class="m"><use href="#L" x="188"/></g><g id="k36-4" class="m"><use href="#L" x="240"/></g><g id="k36-5" class="m"><use href="#L" x="292"/></g><g id="k36-6" class="m"><use href="#L" x="344"/></g><g id="k36-7" class="m"><use href="#L" x="396"/></g><g id="k36-8" class="m"><use href="#L" x="448"/></g><g id="k36-9" class="m"><use href="#L" x="500"/></g><g id="k36-10" class="m"><use href="#L" x="552"/></g><g id="k36-11" class="m"><use href="#L" x="604"/></g></g>
<g id="row37" transform="translate(0,1934)"><g id="k37-1" class="m"><use href="#R" x="84"/></g><g id="k37-2" class="m"><use href="#R" x="136"/></g><g id="k37-3" class="p"><use href="#R" x="188"/></g><g id="k37-4" class="p"><use href="#R" x="240"/></g><g id="k37-5" class="m"><use href="#R" x="292"/></g><g id="k37-6" class="m"><use href="#R" x="344"/></g><g id="k37-7" class="m"><use href="#R" x="396"/></g><g id="k37-8" class="p"><use href="#R" x="448"/></g><g id="k37-9" class="p"><use href="#R" x="500"/></g><g id="k37-10" class="m"><use href="#R" x="552"/></g><g id="k37-11" class="m"><use href="#R" x="604"/></g></g>
<g id="row38" transform="translate(0,1986)"><g id="k38-1" class="m"><use href="#L" x="84"/></g><g id="k38-2" class="p"><use href="#L" x="136"/></g><g id="k38-3" class="p"><use href="#L" x="188"/></g><g id="k38-4" class="p"><use href="#L" x="240"/></g><g id="k38-5" class="p"><use href="#L" x="292"/></g><g id="k38-6" class="m"><use href="#L" x="344"/></g><g id="k38-7" class="p"><use href="#L" x="396"/></g><g id="k38-8" class="p"><use href="#L" x="448"/></g><g id="k38-9" class="p"><use href="#L" x="500"/></g><g id="k38-10" class="p"><use href="#L" x="552"/></g><g id="k38-11" class="m"><use href="#L" x="604"/></g></g>
<g id="row39" transform="translate(0,2038)"><g id="k39-1" class="m"><use href="#R" x="84"/></g><g id="k39-2" class="p"><use href="#R" x="136"/></g><g id="k39-3" class="p"><use href="#R" x="188"/></g><g id="k39-4" class="p"><use href="#R" x="240"/></g><g id="k39-5" class="p"><use href="#R" x="292"/></g><g id="k39-6" class="p"><use href="#R" x="344"/></g><g id="k39-7" class="p"><use href="#R" x="396"/></g><g id="k39-8" class="p"><use href="#R" x="448"/></g><g id="k39-9" class="p"><use href="#R" x="500"/></g><g id="k39-10" class="p"><use href="#R" x="552"/></g><g id="k39-11" class="m"><use href="#R" x="604"/></g></g>
<g id="row40" transform="translate(0,2090)"><g id="k40-1" class="m"><use href="#L" x="84"/></g><g id="k40-2" class="m"><use href="#L" x="136"/></g><g id="k40-3" class="p"><use href="#L" x="188"/></g><g id="k40-4" class="p"><use href="#L" x="240"/></g><g id="k40-5" class="p"><use href="#L" x="292"/></g><g id="k40-6" class="p"><use href="#L" x="344"/></g><g id="k40-7" class="p"><use href="#L" x="396"/></g><g id="k40-8" class="p"><use href="#L" x="448"/></g><g id="k40-9" class="p"><use href="#L" x="500"/></g><g id="k40-10" class="m"><use href="#L" x="552"/></g><g id="k40-11" class="m"><use href="#L" x="604"/></g></g>
<g id="row41" transform="translate(0,2142)"><g id="k41-1" class="m"><use href="#R" x="84"/></g><g id="k41-2" class="m"><use href="#R" x="136"/></g><g id="k41-3" class="m"><use href="#R" x="188"/></g><g id="k41-4" class="p"><use href="#R" x="240"/></g><g id="k41-5" class="p"><use href="#R" x="292"/></g><g id="k41-6" class="p"><use href="#R" x="344"/></g><g id="k41-7" class="p"><use href="#R" x="396"/></g><g id="k41-8" class="p"><use href="#R" x="448"/></g><g id="k41-9" class="m"><use href="#R" x="500"/></g><g id="k41-10" class="m"><use href="#R" x="552"/></g><g id="k41-11" class="m"><use href="#R" x="604"/></g></g>
<g id="row42" transform="translate(0,2194)"><g id="k42-1" class="p"><use href="#L" x="84"/></g><g id="k42-2" class="m"><use href="#L" x="136"/></g><g id="k42-3" class="m"><use href="#L" x="188"/></g><g id="k42-4" class="m"><use href="#L" x="240"/></g><g id="k42-5" class="p"><use href="#L" x="292"/></g><g id="k42-6" class="p"><use href="#L" x="344"/></g><g id="k42-7" class="p"><use href="#L" x="396"/></g><g id="k42-8" class="m"><use href="#L" x="448"/></g><g id="k42-9" class="m"><use href="#L" x="500"/></g><g id="k42-10" class="m"><use href="#L" x="552"/></g><g id="k42-11" class="p"><use href="#L" x="604"/></g></g>
<g id="row43" transform="translate(0,2246)"><g id="k43-1" class="p"><use href="#R" x="84"/></g><g id="k43-2" class="p"><use href="#R" x="136"/></g><g id="k43-3" class="m"><use href="#R" x="188"/></g><g id="k43-4" class="m"><use href="#R" x="240"/></g><g id="k43-5" class="m"><use href="#R" x="292"/></g><g id="k43-6" class="p"><use href="#R" x="344"/></g><g id="k43-7" class="m"><use href="#R" x="396"/></g><g id="k43-8" class="m"><use href="#R" x="448"/></g><g id="k43-9" class="m"><use href="#R" x="500"/></g><g id="k43-10" class="p"><use href="#R" x="552"/></g><g id="k43-11" class="p"><use href="#R" x="604"/></g></g>
<g id="row44" transform="translate(0,2298)"><g id="k44-1" class="p"><use href="#L" x="84"/></g><g id="k44-2" class="p"><use href="#L" x="136"/></g><g id="k44-3" class="p"><use href="#L" x="188"/></g><g id="k44-4" class="m"><use href="#L" x="240"/></g><g id="k44-5" class="m"><use href="#L" x="292"/></g><g id="k44-6" class="m"><use href="#L" x="344"/></g><g id="k44-7" class="m"><use href="#L" x="396"/></g><g id="k44-8" class="m"><use href="#L" x="448"/></g><g id="k44-9" class="p"><use href="#L" x="500"/></g><g id="k44-10" class="p"><use href="#L" x="552"/></g><g id="k44-11" class="p"><use href="#L" x="604"/></g></g>
<g id="row45" transform="translate(0,2350)"><g id="k45-1" class="p"><use href="#R" x="84"/></g><g id="k45-2" class="p"><use href="#R" x="136"/></g><g id="k45-3" class="p"><use href="#R" x="188"/></g><g id="k45-4" class="p"><use href="#R" x="240"/></g><g id="k45-5" class="m"><use href="#R" x="292"/></g><g id="k45-6" class="m"><use href="#R" x="344"/></g><g id="k45-7" class="m"><use href="#R" x="396"/></g><g id="k45-8" class="p"><use href="#R" x="448"/></g><g id="k45-9" class="p"><use href="#R" x="500"/></g><g id="k45-10" class="p"><use href="#R" x="552"/></g><g id="k45-11" class="p"><use href="#R" x="604"/></g></g>
<g id="row46" transform="translate(0,2402)"><g id="k46-1" class="p"><use href="#L" x="84"/></g><g id="k46-2" class="p"><use href="#L" x="136"/></g><g id="k46-3" class="p"><use href="#L" x="188"/></g><g id="k46-4" class="p"><use href="#L" x="240"/></g><g id="k46-5" class="p"><use href="#L" x="292"/></g><g id="k46-6" class="m"><use href="#L" x="344"/></g><g id="k46-7" class="p"><use href="#L" x="396"/></g><g id="k46-8" class="p"><use href="#L" x="448"/></g><g id="k46-9" class="p"><use href="#L" x="500"/></g><g id="k46-10" class="p"><use href="#L" x="552"/></g><g id="k46-11" class="p"><use href="#L" x="604"/></g></g>
<g id="row47" transform="translate(0,2454)"><g id="k47-1" class="p"><use href="#R" x="84"/></g><g id="k47-2" class="p"><use href="#R" x="136"/></g><g id="k47-3" class="p"><use href="#R" x="188"/></g><g id="k47-4" class="p"><use href="#R" x="240"/></g><g id="k47-5" class="p"><use href="#R" x="292"/></g><g id="k47-6" class="p"><use href="#R" x="344"/></g><g id="k47-7" class="p"><use href="#R" x="396"/></g><g id="k47-8" class="p"><use href="#R" x="448"/></g><g id="k47-9" class="p"><use href="#R" x="500"/></g><g id="k47-10" class="p"><use href="#R" x="552"/></g><g id="k47-11" class="p"><use href="#R" x="604"/></g></g>
<g id="row48" transform="translate(0,2506)"><g id="k48-1" class="p"><use href="#L" x="84"/></g><g id="k48-2" class="p"><use href="#L" x="136"/></g><g id="k48-3" class="b"><use href="#L" x="188"/></g><g id="k48-4" class="b"><use href="#L" x="240"/></g><g id="k48-5" class="p"><use href="#L" x="292"/></g><g id="k48-6" class="p"><use href="#L" x="344"/></g><g id="k48-7" class="p"><use href="#L" x="396"/></g><g id="k48-8" class="b"><use href="#L" x="448"/></g><g id="k48-9" class="b"><use href="#L" x="500"/></g><g id="k48-10" class="p"><use href="#L" x="552"/></g><g id="k48-11" class="p"><use href="#L" x="604"/></g></g>
<g id="row49" transform="translate(0,2558)"><g id="k49-1" class="p"><use href="#R" x="84"/></g><g id="k49-2" class="b"><use href="#R" x="136"/></g><g id="k49-3" class="b"><use href="#R" x="188"/></g><g id="k49-4" class="b"><use href="#R" x="240"/></g><g id="k49-5" class="b"><use href="#R" x="292"/></g><g id="k49-6" class="p"><use href="#R" x="344"/></g><g id="k49-7" class="b"><use href="#R" x="396"/></g><g id="k49-8" class="b"><use href="#R" x="448"/></g><g id="k49-9" class="b"><use href="#R" x="500"/></g><g id="k49-10" class="b"><use href="#R" x="552"/></g><g id="k49-11" class="p"><use href="#R" x="604"/></g></g>
<g id="row50" transform="translate(0,2610)"><g id="k50-1" class="p"><use href="#L" x="84"/></g><g id="k50-2" class="b"><use href="#L" x="136"/></g><g id="k50-3" class="b"><use href="#L" x="188"/></g><g id="k50-4" class="b"><use href="#L" x="240"/></g><g id="k50-5" class="b"><use href="#L" x="292"/></g><g id="k50-6" class="b"><use href="#L" x="344"/></g><g id="k50-7" class="b"><use href="#L" x="396"/></g><g id="k50-8" class="b"><use href="#L" x="448"/></g><g id="k50-9" class="b"><use href="#L" x="500"/></g><g id="k50-10" class="b"><use href="#L" x="552"/></g><g id="k50-11" class="p"><use href="#L" x="604"/></g></g>
<g id="row51" transform="translate(0,2662)"><g id="k51-1" class="p"><use href="#R" x="84"/></g><g id="k51-2" class="p"><use href="#R" x="136"/></g><g id="k51-3" class="b"><use href="#R" x="188"/></g><g id="k51-4" class="b"><use href="#R" x="240"/></g><g id="k51-5" class="b"><use href="#R" x="292"/></g><g id="k51-6" class="b"><use href="#R" x="344"/></g><g id="k51-7" class="b"><use href="#R" x="396"/></g><g id="k51-8" class="b"><use href="#R" x="448"/></g><g id="k51-9" class="b"><use href="#R" x="500"/></g><g id="k51-10" class="p"><use href="#R" x="552"/></g><g id="k51-11" class="p"><use href="#R" x="604"/></g></g>
<g id="row52" transform="translate(0,2714)"><g id="k52-1" class="p"><use href="#L" x="84"/></g><g id="k52-2" class="p"><use href="#L" x="136"/></g><g id="k52-3" class="p"><use href="#L" x="188"/></g><g id="k52-4" class="b"><use href="#L" x="240"/></g><g id="k52-5" class="b"><use href="#L" x="292"/></g><g id="k52-6" class="b"><use href="#L" x="344"/></g><g id="k52-7" class="b"><use href="#L" x="396"/></g><g id="k52-8" class="b"><use href="#L" x="448"/></g><g id="k52-9" class="p"><use href="#L" x="500"/></g><g id="k52-10" class="p"><use href="#L" x="552"/></g><g id="k52-11" class="p"><use href="#L" x="604"/></g></g>
<g id="row53" transform="translate(0,2766)"><g id="k53-1" class="p"><use href="#R" x="84"/></g><g id="k53-2" class="p"><use href="#R" x="136"/></g><g id="k53-3" class="p"><use href="#R" x="188"/></g><g id="k53-4" class="p"><use href="#R" x="240"/></g><g id="k53-5" class="b"><use href="#R" x="292"/></g><g id="k53-6" class="b"><use href="#R" x="344"/></g><g id="k53-7" class="b"><use href="#R" x="396"/></g><g id="k53-8" class="p"><use href="#R" x="448"/></g><g id="k53-9" class="p"><use href="#R" x="500"/></g><g id="k53-10" class="p"><use href="#R" x="552"/></g><g id="k53-11" class="p"><use href="#R" x="604"/></g></g>
<g id="row54" transform="translate(0,2818)"><g id="k54-1" class="p"><use href="#L" x="84"/></g><g id="k54-2" class="p"><use href="#L" x="136"/></g><g id="k54-3" class="p"><use href="#L" x="188"/></g><g id="k54-4" class="p"><use href="#L" x="240"/></g><g id="k54-5" class="p"><use href="#L" x="292"/></g><g id="k54-6" class="b"><use href="#L" x="344"/></g><g id="k54-7" class="p"><use href="#L" x="396"/></g><g id="k54-8" class="p"><use href="#L" x="448"/></g><g id="k54-9" class="p"><use href="#L" x="500"/></g><g id="k54-10" class="p"><use href="#L" x="552"/></g><g id="k54-11" class="p"><use href="#L" x="604"/></g></g>
<g id="row55" transform="translate(0,2870)"><g id="k55-1" class="p"><use href="#R" x="84"/></g><g id="k55-2" class="p"><use href="#R" x="136"/></g><g id="k55-3" class="p"><use href="#R" x="188"/></g><g id="k55-4" class="p"><use href="#R" x="240"/></g><g id="k55-5" class="p"><use href="#R" x="292"/></g><g id="k55-6" class="p"><use href="#R" x="344"/></g><g id="k55-7" class="p"><use href="#R" x="396"/></g><g id="k55-8" class="p"><use href="#R" x="448"/></g><g id="k55-9" class="p"><use href="#R" x="500"/></g><g id="k55-10" class="p"><use href="#R" x="552"/></g><g id="k55-11" class="p"><use href="#R" x="604"/></g></g>
<g id="row56" transform="translate(0,2922)"><g id="k56-1" class="p"><use href="#L" x="84"/></g><g id="k56-2" class="p"><use href="#L" x="136"/></g><g id="k56-3" class="p"><use href="#L" x="188"/></g><g id="k56-4" class="p"><use href="#L" x="240"/></g><g id="k56-5" class="p"><use href="#L" x="292"/></g><g id="k56-6" class="p"><use href="#L" x="344"/></g><g id="k56-7" class="p"><use href="#L" x="396"/></g><g id="k56-8" class="p"><use href="#L" x="448"/></g><g id="k56-9" class="p"><use href="#L" x="500"/></g><g id="k56-10" class="p"><use href="#L" x="552"/></g><g id="k56-11" class="p"><use href="#L" x="604"/></g></g>
<g id="row57" transform="translate(0,2974)"><g id="k57-1" class="p"><use href="#R" x="84"/></g><g id="k57-2" class="p"><use href="#R" x="136"/></g><g id="k57-3" class="p"><use href="#R" x="188"/></g><g id="k57-4" class="p"><use href="#R" x="240"/></g><g id="k57-5" class="p"><use href="#R" x="292"/></g><g id="k57-6" class="p"><use href="#R" x="344"/></g><g id="k57-7" class="p"><use href="#R" x="396"/></g><g id="k57-8" class="p"><use href="#R" x="448"/></g><g id="k57-9" class="p"><use href="#R" x="500"/></g><g id="k57-10" class="p"><use href="#R" x="552"/></g><g id="k57-11" class="p"><use href="#R" x="604"/></g></g>
</g>
<g id="stub-labels" class="lbl">
<text x="31" y="66">B</text>
<text x="661" y="222" text-anchor="end">A</text>
<text x="31" y="794">C</text>
<text x="31" y="1262">A</text>
<text x="661" y="1366" text-anchor="end">D</text>
<text x="661" y="1834" text-anchor="end">C</text>
<text x="31" y="1938">E</text>
<text x="31" y="2406">D</text>
<text x="31" y="2822">B</text>
<text x="661" y="2978" text-anchor="end">E</text>
</g>
<text id="watermark" x="346" y="1549" text-anchor="middle" font-family="Liberation Sans, Arial, sans-serif" font-weight="bold" font-size="17" fill="#3a3a3a" textLength="154" lengthAdjust="spacingAndGlyphs">BRACELETBOOK.COM</text>
</svg>
